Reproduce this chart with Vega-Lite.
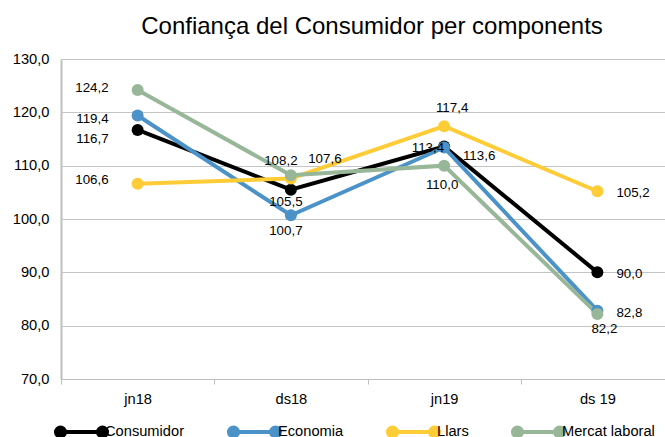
{
  "$schema": "https://vega.github.io/schema/vega-lite/v6.json",
  "width": 604,
  "height": 320,
  "autosize": "none",
  "padding": {"left": 61, "top": 59, "right": 0, "bottom": 58},
  "title": {"text": "Confiança del Consumidor per components", "fontSize": 24, "font": "Liberation Sans", "fontWeight": "normal", "color": "#000", "anchor": "middle", "dx": 9, "offset": 12},
  "data": {"values": [
    {"serie": "Consumidor", "periode": "jn18", "valor": 116.7},
    {"serie": "Consumidor", "periode": "ds18", "valor": 105.5},
    {"serie": "Consumidor", "periode": "jn19", "valor": 113.6},
    {"serie": "Consumidor", "periode": "ds 19", "valor": 90.0},
    {"serie": "Economia", "periode": "jn18", "valor": 119.4},
    {"serie": "Economia", "periode": "ds18", "valor": 100.7},
    {"serie": "Economia", "periode": "jn19", "valor": 113.4},
    {"serie": "Economia", "periode": "ds 19", "valor": 82.8},
    {"serie": "Llars", "periode": "jn18", "valor": 106.6},
    {"serie": "Llars", "periode": "ds18", "valor": 107.6},
    {"serie": "Llars", "periode": "jn19", "valor": 117.4},
    {"serie": "Llars", "periode": "ds 19", "valor": 105.2},
    {"serie": "Mercat laboral", "periode": "jn18", "valor": 124.2},
    {"serie": "Mercat laboral", "periode": "ds18", "valor": 108.2},
    {"serie": "Mercat laboral", "periode": "jn19", "valor": 110.0},
    {"serie": "Mercat laboral", "periode": "ds 19", "valor": 82.2}
  ]},
  "encoding": {
    "x": {"field": "periode", "type": "nominal", "sort": null,
      "scale": {"type": "band", "range": [0, 613], "paddingInner": 0, "paddingOuter": 0},
      "axis": {"title": null, "tickBand": "extent", "tickSize": 5, "labelPadding": 7, "labelAngle": 0, "grid": false, "domainColor": "#bfbfbf", "tickColor": "#bfbfbf", "labelFontSize": 14.67, "labelFont": "Liberation Sans", "labelColor": "#000"}},
    "y": {"field": "valor", "type": "quantitative",
      "scale": {"domain": [70, 130], "nice": false, "zero": false},
      "axis": {"title": null, "values": [70, 80, 90, 100, 110, 120, 130], "format": ".1f", "ticks": false, "labelPadding": 12, "labelFontSize": 14.67, "labelFont": "Liberation Sans", "labelColor": "#000", "domainColor": "#bfbfbf", "domainWidth": 2, "gridColor": "#c4c4c4", "gridWidth": 1}}
  },
  "layer": [
    {"mark": {"type": "line", "strokeWidth": 4, "point": {"filled": true, "size": 144, "opacity": 1}},
     "encoding": {"color": {"field": "serie", "type": "nominal",
       "scale": {"domain": ["Consumidor", "Economia", "Llars", "Mercat laboral"], "range": ["#000000", "#4a92c8", "#fdcc37", "#98b698"]},
       "legend": {"orient": "none", "direction": "horizontal", "legendX": -9, "legendY": 343, "title": null,
         "symbolType": "M-0.764,0L0.764,0M-0.928,0A0.164,0.164,0,1,0,-0.6,0A0.164,0.164,0,1,0,-0.928,0ZM0.6,0A0.164,0.164,0,1,0,0.928,0A0.164,0.164,0,1,0,0.6,0Z",
         "symbolSize": 3025, "symbolStrokeWidth": 4, "labelFontSize": 14.67, "labelFont": "Liberation Sans", "labelColor": "#000", "labelOffset": -6, "columnPadding": 35, "padding": 0,
         "encode": {"symbols": {"update": {"fill": {"scale": "color", "field": "value"}, "stroke": {"scale": "color", "field": "value"}, "opacity": {"value": 1}}}}}}}},
    {"transform": [{"filter": "datum.periode=='jn18' && datum.serie=='Mercat laboral'"}], "mark": {"type": "text", "align": "right", "dx": -29, "dy": -2}, "encoding": {"text": {"field": "valor", "type": "quantitative", "format": ".1f"}}},
    {"transform": [{"filter": "datum.periode=='jn18' && datum.serie=='Economia'"}], "mark": {"type": "text", "align": "right", "dx": -29, "dy": 3}, "encoding": {"text": {"field": "valor", "type": "quantitative", "format": ".1f"}}},
    {"transform": [{"filter": "datum.periode=='jn18' && datum.serie=='Consumidor'"}], "mark": {"type": "text", "align": "right", "dx": -29, "dy": 9}, "encoding": {"text": {"field": "valor", "type": "quantitative", "format": ".1f"}}},
    {"transform": [{"filter": "datum.periode=='jn18' && datum.serie=='Llars'"}], "mark": {"type": "text", "align": "right", "dx": -29, "dy": -4}, "encoding": {"text": {"field": "valor", "type": "quantitative", "format": ".1f"}}},
    {"transform": [{"filter": "datum.periode=='ds18' && datum.serie=='Mercat laboral'"}], "mark": {"type": "text", "align": "center", "dx": -10, "dy": -14}, "encoding": {"text": {"field": "valor", "type": "quantitative", "format": ".1f"}}},
    {"transform": [{"filter": "datum.periode=='ds18' && datum.serie=='Llars'"}], "mark": {"type": "text", "align": "center", "dx": 34, "dy": -19}, "encoding": {"text": {"field": "valor", "type": "quantitative", "format": ".1f"}}},
    {"transform": [{"filter": "datum.periode=='ds18' && datum.serie=='Consumidor'"}], "mark": {"type": "text", "align": "center", "dx": -5, "dy": 12}, "encoding": {"text": {"field": "valor", "type": "quantitative", "format": ".1f"}}},
    {"transform": [{"filter": "datum.periode=='ds18' && datum.serie=='Economia'"}], "mark": {"type": "text", "align": "center", "dx": -5, "dy": 16}, "encoding": {"text": {"field": "valor", "type": "quantitative", "format": ".1f"}}},
    {"transform": [{"filter": "datum.periode=='jn19' && datum.serie=='Llars'"}], "mark": {"type": "text", "align": "center", "dx": 8, "dy": -18}, "encoding": {"text": {"field": "valor", "type": "quantitative", "format": ".1f"}}},
    {"transform": [{"filter": "datum.periode=='jn19' && datum.serie=='Economia'"}], "mark": {"type": "text", "align": "right", "dx": 0, "dy": 0}, "encoding": {"text": {"field": "valor", "type": "quantitative", "format": ".1f"}}},
    {"transform": [{"filter": "datum.periode=='jn19' && datum.serie=='Consumidor'"}], "mark": {"type": "text", "align": "center", "dx": 35, "dy": 10}, "encoding": {"text": {"field": "valor", "type": "quantitative", "format": ".1f"}}},
    {"transform": [{"filter": "datum.periode=='jn19' && datum.serie=='Mercat laboral'"}], "mark": {"type": "text", "align": "center", "dx": -2, "dy": 19}, "encoding": {"text": {"field": "valor", "type": "quantitative", "format": ".1f"}}},
    {"transform": [{"filter": "datum.periode=='ds 19' && datum.serie!='Mercat laboral'"}], "mark": {"type": "text", "align": "left", "dx": 19, "dy": 2}, "encoding": {"text": {"field": "valor", "type": "quantitative", "format": ".1f"}}},
    {"transform": [{"filter": "datum.periode=='ds 19' && datum.serie=='Mercat laboral'"}], "mark": {"type": "text", "align": "center", "dx": 7, "dy": 15}, "encoding": {"text": {"field": "valor", "type": "quantitative", "format": ".1f"}}}
  ],
  "config": {
    "locale": {"number": {"decimal": ",", "thousands": ".", "grouping": [3], "currency": ["", " €"]}},
    "view": {"stroke": null},
    "font": "Liberation Sans",
    "text": {"fontSize": 13.33, "font": "Liberation Sans", "baseline": "middle", "color": "#000"}
  }
}
